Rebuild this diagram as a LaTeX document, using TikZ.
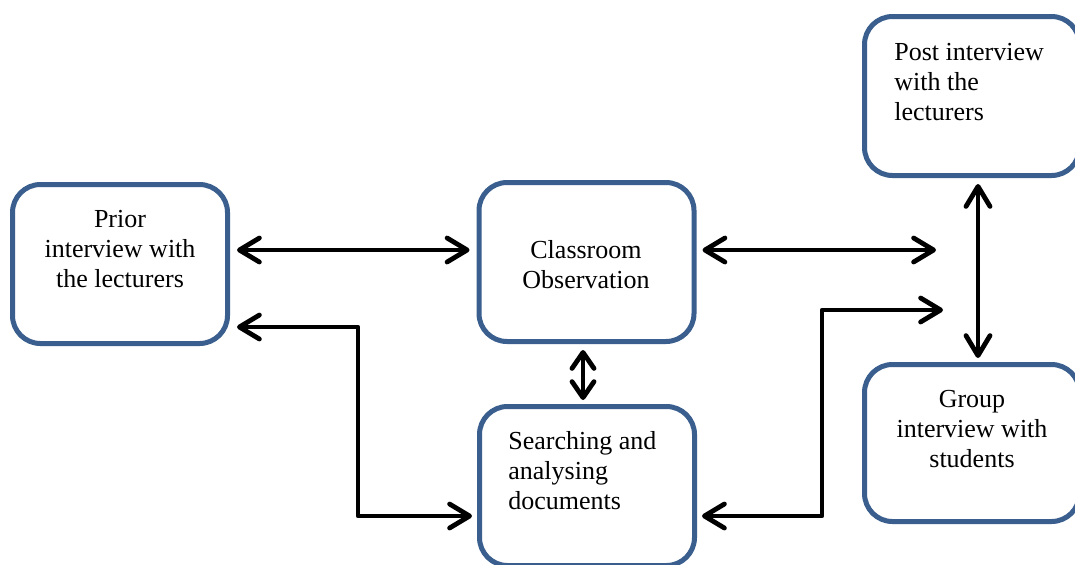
\documentclass[tikz,border=0pt]{standalone}
\usepackage{fontspec}
\setmainfont{Liberation Serif}
\usetikzlibrary{arrows.meta}
\definecolor{boxblue}{HTML}{3A5F8E}
\tikzset{
  box/.style={draw=boxblue, line width=2.5pt, rounded corners=14pt, fill=white, inner sep=0pt},
  lbl/.style={inner sep=0pt, font=\fontsize{13}{15}\selectfont},
  tipA/.tip={Straight Barb[length=10pt,width=12pt,line width=2.4pt,round]},
  conn/.style={line width=2.4pt, line cap=round, line join=round, tipA-tipA},
  shortconn/.style={line width=2.4pt, line cap=round, line join=round,
    {Straight Barb[length=8pt,width=11pt,line width=2.4pt,round]}-{Straight Barb[length=8pt,width=11pt,line width=2.4pt,round]}}
}
\begin{document}
\begin{tikzpicture}[x=0.5pt,y=-0.5pt]
\useasboundingbox (0,0) rectangle (1075,564);
\clip (0,0) rectangle (1075,564);
% boxes
\node[box, minimum width=107.5pt, minimum height=79.5pt] (prior) at (120,264) {};
\node[box, minimum width=107.5pt, minimum height=79.5pt] (class) at (586.5,262) {};
\node[box, minimum width=107.5pt, minimum height=79.5pt] (search) at (587,486) {};
\node[box, minimum width=107.5pt, minimum height=79.5pt] (post) at (972,96) {};
\node[box, minimum width=107.5pt, minimum height=78.5pt] (group) at (972,443) {};
% labels
\node[lbl, align=center] (priort) at (120,249) {Prior\\interview with\\the lecturers};
\node[lbl, align=center] (classt) at (586,265) {Classroom\\Observation};
\node[lbl, align=left, anchor=west] (searcht) at (508,471) {Searching and\\analysing\\documents};
\node[lbl, align=left, anchor=west] (postt) at (894,82) {Post interview\\with the\\lecturers};
\node[lbl, align=center] (groupt) at (972,429) {Group\\interview with\\students};
% free ends
\coordinate (e1) at (936,250);
\coordinate (e2) at (943,310);
% connectors
\draw[conn] ([xshift=3.5pt,yshift=7pt]prior.east) -- ([xshift=-3.5pt,yshift=6pt]class.west);
\draw[conn] ([xshift=3pt,yshift=6pt]class.east) -- (e1);
\draw[shortconn] ([xshift=-1.75pt,yshift=-3pt]class.south) -- ([xshift=-2pt,yshift=2pt]search.north);
\draw[conn] ([xshift=3.5pt,yshift=-31.5pt]prior.east) -- ++(60.5pt,0) |- ([xshift=-2.5pt,yshift=-15pt]search.west);
\draw[conn] ([xshift=2.5pt,yshift=-15pt]search.east) -- ++(60pt,0) |- (e2);
\draw[conn] ([xshift=3pt,yshift=-3pt]post.south) -- ([xshift=3pt,yshift=2pt]group.north);
\end{tikzpicture}
\end{document}
